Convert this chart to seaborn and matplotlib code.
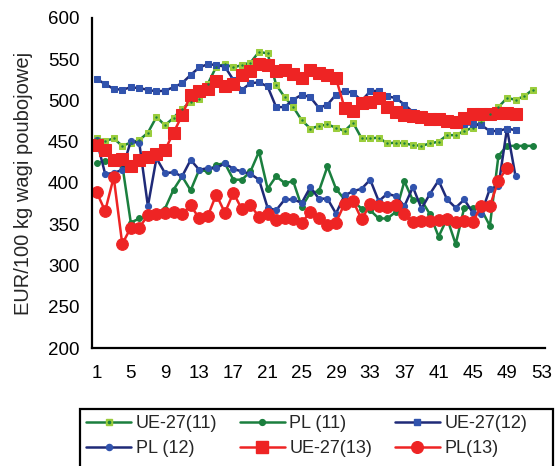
import matplotlib
matplotlib.use("Agg")
import matplotlib.pyplot as plt
from matplotlib.lines import Line2D
from matplotlib.patches import Rectangle
import pandas as pd
import seaborn as sns

# Weekly carcass prices, EUR per 100 kg
ue27_11 = [454, 451, 454, 445, 449, 452, 461, 480, 470, 479, 490, 498, 502, 520,
           541, 544, 540, 543, 546, 559, 557, 519, 504, 492, 476, 466, 469, 471,
           467, 463, 473, 454, 454, 455, 448, 449, 448, 446, 445, 448, 450, 458,
           458, 463, 467, 474, 484, 492, 503, 501, 505, 513]
pl_11 = [424, 427, 425, 422, 352, 357, 360, 364, 369, 392, 408, 391, 416, 414,
         422, 424, 404, 404, 414, 438, 393, 408, 400, 402, 371, 388, 390, 420,
         393, 380, 378, 369, 367, 357, 357, 365, 402, 379, 379, 362, 335, 357,
         326, 370, 370, 368, 348, 433, 445, 445, 445, 445]
ue27_12 = [526, 520, 514, 513, 516, 515, 513, 511, 512, 516, 521, 531, 540, 544,
           543, 541, 525, 513, 521, 522, 517, 492, 492, 501, 507, 504, 491, 495,
           507, 512, 509, 500, 511, 512, 505, 503, 495, 486, 484, 478, 476, 474,
           470, 471, 471, 470, 463, 463, 466, 464]
pl_12 = [452, 411, 412, 416, 451, 448, 372, 430, 412, 413, 408, 428, 416, 418,
         418, 424, 417, 414, 411, 404, 370, 367, 380, 380, 376, 395, 381, 381,
         363, 385, 390, 393, 404, 378, 387, 384, 372, 395, 369, 387, 403, 380,
         370, 380, 364, 363, 393, 396, 466, 408]
ue27_13 = [446, 440, 428, 429, 421, 428, 432, 435, 440, 461, 482, 507, 511, 514,
           524, 518, 520, 531, 536, 544, 543, 536, 537, 532, 527, 537, 533, 531,
           527, 491, 487, 497, 498, 503, 492, 486, 483, 481, 480, 478, 477, 475,
           474, 479, 484, 484, 484, 485, 485, 484]
pl_13 = [389, 366, 407, 326, 346, 346, 361, 363, 364, 365, 362, 373, 357, 360,
         386, 364, 388, 368, 373, 359, 362, 355, 358, 356, 352, 365, 358, 349,
         352, 375, 378, 356, 374, 372, 371, 373, 363, 353, 354, 354, 355, 356,
         353, 354, 353, 372, 372, 403, 418]

series_names = ["UE-27(11)", "PL (11)", "UE-27(12)", "PL (12)", "UE-27(13)", "PL(13)"]
series_values = [ue27_11, pl_11, ue27_12, pl_12, ue27_13, pl_13]

x_ticks = list(range(1, 54, 4))
y_ticks = list(range(200, 601, 50))

frames = []
for name, vals in zip(series_names, series_values):
    frames.append(pd.DataFrame({"week": range(1, len(vals) + 1),
                                "price": vals, "series": name}))
df = pd.concat(frames, ignore_index=True)

DARK_GREEN = "#1b7f3e"
LIGHT_GREEN = "#9acd3c"
NAVY = "#1f2a78"
BLUE = "#3153ad"
RED = "#ee2424"

styles = {
    "UE-27(11)": dict(color=DARK_GREEN, marker="s", markersize=4.6,
                      markerfacecolor=LIGHT_GREEN, markeredgecolor=LIGHT_GREEN,
                      linewidth=1.8),
    "PL (11)": dict(color=DARK_GREEN, marker="o", markersize=4.2,
                    markerfacecolor=DARK_GREEN, markeredgecolor=DARK_GREEN,
                    linewidth=1.8),
    "UE-27(12)": dict(color=NAVY, marker="s", markersize=5.0,
                      markerfacecolor=BLUE, markeredgecolor=BLUE, linewidth=1.8),
    "PL (12)": dict(color=NAVY, marker="o", markersize=4.4,
                    markerfacecolor=BLUE, markeredgecolor=BLUE, linewidth=1.8),
    "UE-27(13)": dict(color=RED, marker="s", markersize=8.6,
                      markerfacecolor=RED, markeredgecolor=RED, linewidth=1.8),
    "PL(13)": dict(color=RED, marker="o", markersize=8.4,
                   markerfacecolor=RED, markeredgecolor=RED, linewidth=1.8),
}

sns.set_theme(style="white")
plt.rcParams["font.family"] = ["Liberation Sans", "DejaVu Sans"]

fig = plt.figure(figsize=(5.57, 4.66), dpi=100)
ax = fig.add_axes([0.165, 0.2532, 0.8135, 0.7082])

for name in series_names:
    sub = df[df["series"] == name]
    sns.lineplot(data=sub, x="week", y="price", ax=ax, errorbar=None,
                 legend=False, **styles[name])
    if name == "UE-27(11)":
        # small dark centre dot on each light green square
        sns.scatterplot(data=sub, x="week", y="price", ax=ax, s=3,
                        color=DARK_GREEN, linewidth=0, legend=False, zorder=3)

ax.set_xlim(0.45, 53.45)
ax.set_ylim(200, 600)
ax.set_xticks(x_ticks)
ax.set_yticks(y_ticks)
ax.set_xlabel("")
ax.set_ylabel("EUR/100 kg wagi poubojowej", fontsize=14.5, labelpad=11)
ax.tick_params(axis="both", labelsize=13.5, colors="black", direction="out",
               length=5, width=1.2, pad=4)
ax.tick_params(axis="x", pad=7)
for side in ("top", "right"):
    ax.spines[side].set_visible(False)
for side in ("left", "bottom"):
    ax.spines[side].set_color("black")
    ax.spines[side].set_linewidth(1.6)
ax.grid(False)

handles = {}
for name in series_names:
    st = styles[name]
    h = Line2D([], [], **st)
    if name == "UE-27(11)":
        dot = Line2D([], [], linestyle="none", marker="o", markersize=1.6,
                     color=DARK_GREEN)
        h = (h, dot)
    handles[name] = h

order = ["UE-27(11)", "PL (12)", "PL (11)", "UE-27(13)", "UE-27(12)", "PL(13)"]
leg = fig.legend([handles[n] for n in order], order, ncol=3, loc="upper left",
                 bbox_to_anchor=(77 / 557, 1 - 406 / 466),
                 fontsize=13, frameon=False, handlelength=2.5,
                 handletextpad=0.25, columnspacing=1.25, borderpad=0.0,
                 labelspacing=0.45)

# legend box
fig.add_artist(Rectangle((80 / 557, -0.02), (553 - 80) / 557, (466 - 409) / 466 + 0.02,
                         transform=fig.transFigure, fill=False,
                         edgecolor="black", linewidth=1.6))

fig.savefig("out.png", dpi=100)
